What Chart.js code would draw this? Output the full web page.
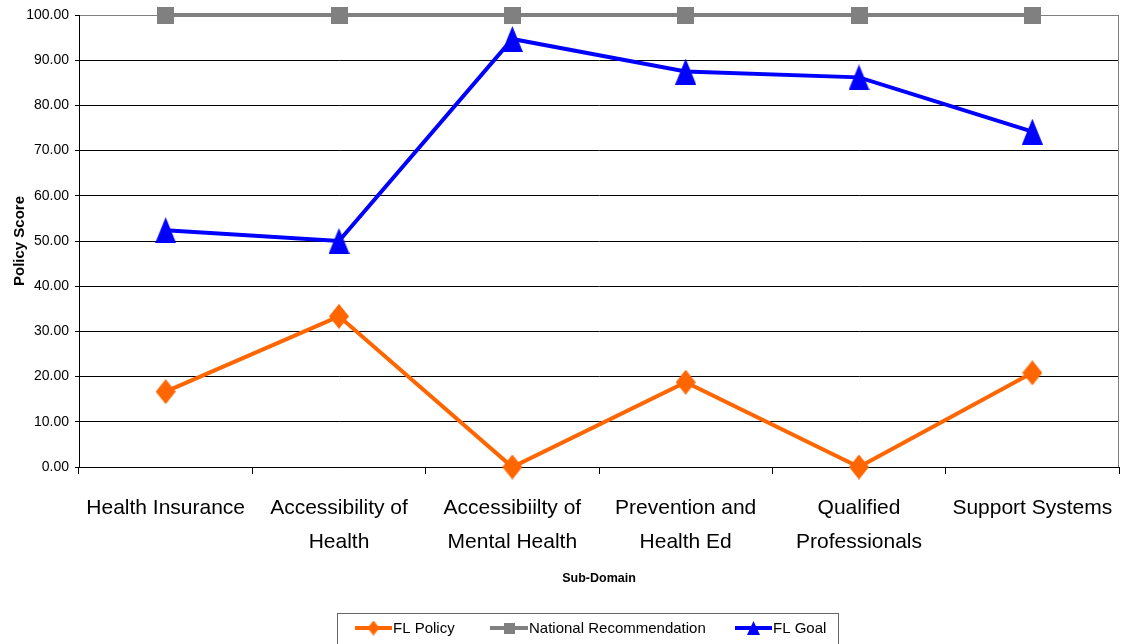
<!DOCTYPE html>
<html>
<head>
<meta charset="utf-8">
<script src="https://cdn.jsdelivr.net/npm/chart.js@4/dist/chart.umd.min.js"></script>
<style>
  html, body { margin: 0; padding: 0; background: #fff; }
  #wrap { width: 1123px; height: 644px; position: relative; }
</style>
</head>
<body>
<div id="wrap"><canvas id="chart" width="1123" height="644"></canvas></div>
<script>
// Sub-domain categories (two-line labels)
const categories = [
  ['Health Insurance'],
  ['Accessibility of', 'Health'],
  ['Accessibiilty of', 'Mental Health'],
  ['Prevention and', 'Health Ed'],
  ['Qualified', 'Professionals'],
  ['Support Systems']
];
const flPolicy = [16.67, 33.33, 0, 18.75, 0, 20.83];
const nationalRecommendation = [100, 100, 100, 100, 100, 100];
const flGoal = [52.4, 50.0, 94.7, 87.5, 86.2, 74.2];
const seriesNames = ['FL Policy', 'National Recommendation', 'FL Goal'];
const seriesColors = ['#FF6600', '#808080', '#0000FF'];

const sans = '"Liberation Sans", Arial, sans-serif';

// Marker glyphs drawn onto small canvases so their proportions can be set freely
function marker(shape, color, w, h) {
  const c = document.createElement('canvas');
  c.width = w; c.height = h;
  const g = c.getContext('2d');
  g.fillStyle = color;
  g.beginPath();
  if (shape === 'diamond') {
    g.moveTo(w / 2, 0); g.lineTo(w, h / 2); g.lineTo(w / 2, h); g.lineTo(0, h / 2);
  } else if (shape === 'triangle') {
    g.moveTo(w / 2, 0); g.lineTo(w, h); g.lineTo(0, h);
  } else {
    g.rect(0, 0, w, h);
  }
  g.closePath();
  g.fill();
  return c;
}

const diamondPt = marker('diamond', seriesColors[0], 20, 25);
const squarePt = marker('square', seriesColors[1], 17, 17);
const trianglePt = marker('triangle', seriesColors[2], 21, 26);

// Plot frame (right edge) and the boxed legend under the axis title
const framePlugin = {
  id: 'frame',
  beforeDatasetsDraw(chart) {
    const { ctx, chartArea: a } = chart;
    ctx.save();
    ctx.strokeStyle = '#808080';
    ctx.lineWidth = 1;
    ctx.beginPath();
    ctx.moveTo(a.right - 0.5, a.top);
    ctx.lineTo(a.right - 0.5, a.bottom);
    ctx.stroke();
    ctx.restore();
  },
  afterDraw(chart) {
    const ctx = chart.ctx;
    ctx.save();
    ctx.fillStyle = '#fff';
    ctx.strokeStyle = '#666';
    ctx.lineWidth = 1;
    ctx.fillRect(337, 613, 501, 40);
    ctx.strokeRect(337.5, 613.5, 501, 40);
    const items = [
      { x0: 355, x1: 392, tx: 393, m: marker('diamond', seriesColors[0], 12, 15) },
      { x0: 490, x1: 528, tx: 529, m: marker('square', seriesColors[1], 11, 11) },
      { x0: 735, x1: 772, tx: 773, m: marker('triangle', seriesColors[2], 13, 14) }
    ];
    const y = 628;
    ctx.font = '15px ' + sans;
    ctx.textBaseline = 'middle';
    ctx.textAlign = 'left';
    items.forEach((it, i) => {
      ctx.strokeStyle = seriesColors[i];
      ctx.lineWidth = 4;
      ctx.beginPath();
      ctx.moveTo(it.x0, y);
      ctx.lineTo(it.x1, y);
      ctx.stroke();
      const cx = (it.x0 + it.x1) / 2;
      ctx.drawImage(it.m, cx - it.m.width / 2, y - it.m.height / 2);
      ctx.fillStyle = '#000';
      ctx.fillText(seriesNames[i], it.tx, y + 1);
    });
    ctx.restore();
  }
};

new Chart(document.getElementById('chart'), {
  type: 'line',
  data: {
    labels: categories,
    datasets: [
      {
        label: seriesNames[0], data: flPolicy,
        borderColor: seriesColors[0], backgroundColor: seriesColors[0],
        borderWidth: 4, pointStyle: diamondPt, order: 1, clip: false
      },
      {
        label: seriesNames[1], data: nationalRecommendation,
        borderColor: seriesColors[1], backgroundColor: seriesColors[1],
        borderWidth: 4, pointStyle: squarePt, order: 3, clip: false
      },
      {
        label: seriesNames[2], data: flGoal,
        borderColor: seriesColors[2], backgroundColor: seriesColors[2],
        borderWidth: 4, pointStyle: trianglePt, order: 2, clip: false
      }
    ]
  },
  options: {
    responsive: false,
    animation: false,
    devicePixelRatio: 1,
    tension: 0,
    layout: { autoPadding: false, padding: { top: 15, right: 4, left: 0, bottom: 0 } },
    plugins: {
      legend: { display: false },
      tooltip: { enabled: false }
    },
    scales: {
      x: {
        offset: true,
        grid: {
          offset: true, drawOnChartArea: false, drawTicks: true,
          tickLength: 7, tickColor: '#000', tickWidth: 1
        },
        border: { color: '#000', width: 1 },
        ticks: {
          color: '#000', maxRotation: 0, autoSkip: false, padding: 17,
          font: { family: sans, size: 21, lineHeight: 1.62 }
        },
        title: {
          display: true, text: 'Sub-Domain', color: '#000',
          font: { family: sans, size: 12.5, weight: 'bold' },
          padding: { top: 0, bottom: 58 }
        },
        afterFit(scale) {
          scale.height = 177;
          scale.paddingLeft = 0;
          scale.paddingRight = 0;
        }
      },
      y: {
        min: 0, max: 100,
        ticks: {
          stepSize: 10, color: '#000', padding: 6,
          font: { family: sans, size: 14 },
          callback: v => Number(v).toFixed(2)
        },
        grid: {
          color: ctx => (ctx.tick && ctx.tick.value === 100 ? '#808080' : '#000'),
          lineWidth: 1, tickLength: 4, tickColor: '#000'
        },
        border: { color: '#000', width: 1 },
        title: {
          display: true, text: 'Policy Score', color: '#000',
          font: { family: sans, size: 15, weight: 'bold' },
          padding: { top: 11, bottom: 0 }
        },
        afterFit(scale) {
          scale.width = 79;
          scale.paddingTop = 0;
          scale.paddingBottom = 0;
        }
      }
    }
  },
  plugins: [framePlugin]
});
</script>
</body>
</html>
